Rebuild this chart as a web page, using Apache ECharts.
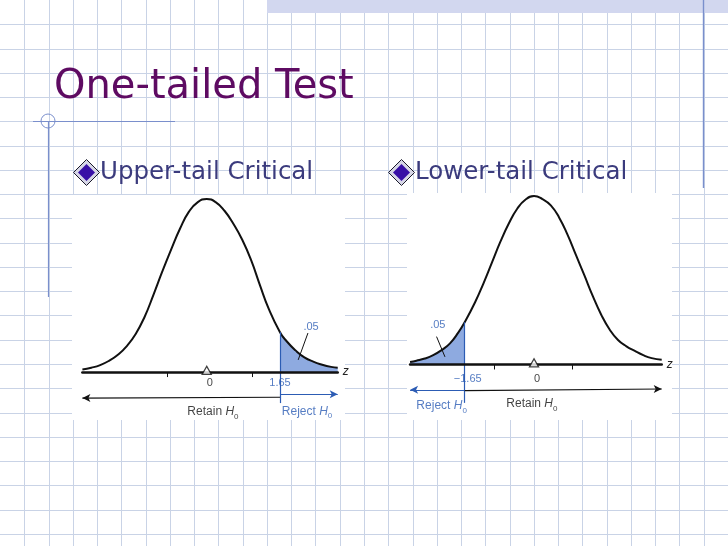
<!DOCTYPE html>
<html><head><meta charset="utf-8">
<script src="https://cdn.jsdelivr.net/npm/echarts@6/dist/echarts.min.js"></script>
<style>html,body{margin:0;padding:0;background:#fff;}#c{width:728px;height:546px;}</style>
</head><body><div id="c"></div>
<script>
// ---- data ----
const titleText = 'One-tailed Test';
const subtitles = ['Upper-tail Critical', 'Lower-tail Critical'];

const leftZ       = [-2.8, -2.6, -2.4, -2.2, -2.0, -1.8, -1.6, -1.4, -1.2, -1.0, -0.8, -0.6, -0.4, -0.2, 0, 0.2, 0.4, 0.6, 0.8, 1.0, 1.2, 1.4, 1.65, 1.8, 2.0, 2.2, 2.4, 2.6, 2.8, 2.95];
const leftDensity = [0.006, 0.010, 0.016, 0.026, 0.040, 0.060, 0.088, 0.127, 0.178, 0.232, 0.283, 0.331, 0.370, 0.392, 0.399, 0.392, 0.372, 0.342, 0.305, 0.258, 0.200, 0.145, 0.092, 0.071, 0.050, 0.034, 0.024, 0.017, 0.012, 0.010];

const rightZ       = [-2.95, -2.8, -2.6, -2.4, -2.2, -2.0, -1.8, -1.65, -1.4, -1.2, -1.0, -0.8, -0.6, -0.4, -0.2, 0, 0.2, 0.4, 0.6, 0.8, 1.0, 1.2, 1.4, 1.6, 1.8, 2.0, 2.2, 2.4, 2.6, 2.8, 3.04];
const rightDensity = [0.006, 0.009, 0.014, 0.022, 0.034, 0.050, 0.076, 0.100, 0.148, 0.193, 0.242, 0.291, 0.334, 0.369, 0.391, 0.399, 0.392, 0.377, 0.348, 0.307, 0.259, 0.211, 0.162, 0.118, 0.083, 0.058, 0.043, 0.032, 0.022, 0.015, 0.011];

const leftCritical = 1.65;
const rightCritical = -1.65;
const tailAreaLabel = '.05';
const leftLabelTicks = [0, 1.65];
const rightLabelTicks = [-1.65, 0];
const leftMinorTicks = [-0.9, 1.03];
const rightMinorTicks = [-0.95, 0.91];

// ---- styling ----
const BLUE = '#2c5cb4';
const SHADE = '#8eaae0';
const INK = '#111';

const chart = echarts.init(document.getElementById('c'), null, {renderer: 'canvas'});

const pairs = (zs, ds) => zs.map((z, i) => [z, ds[i]]);
const leftCurve = pairs(leftZ, leftDensity);
const rightCurve = pairs(rightZ, rightDensity);
const leftTail = leftCurve.filter(p => p[0] >= leftCritical);
const rightTail = rightCurve.filter(p => p[0] <= rightCritical);
const leftCritD = leftDensity[leftZ.indexOf(leftCritical)];
const rightCritD = rightDensity[rightZ.indexOf(rightCritical)];

function fmtZ(v) {
  v = Number(v);
  if (v === 0) return '0';
  return (v < 0 ? '\u2212' : '') + Math.abs(v).toFixed(2);
}

function hLabel(word) {
  return '{a|' + word + ' }{h|H}{s|0}';
}
function richFor(color) {
  return {
    a: {fontSize: 12, fontFamily: 'Liberation Sans', color: color, lineHeight: 14, verticalAlign: 'bottom'},
    h: {fontSize: 12, fontFamily: 'Liberation Sans', fontStyle: 'italic', color: color, lineHeight: 14, verticalAlign: 'bottom'},
    s: {fontSize: 8, fontFamily: 'Liberation Sans', color: color, lineHeight: 9, verticalAlign: 'bottom', padding: [0, 0, -3, 0]}
  };
}

function xAxisFor(idx, min, max, minorTicks) {
  return {
    type: 'value', gridIndex: idx, min: min, max: max, z: 10,
    name: 'z', nameLocation: 'end', nameGap: 5,
    nameTextStyle: {fontStyle: 'italic', fontSize: 12, color: '#222', fontFamily: 'Liberation Sans', verticalAlign: 'middle'},
    axisLine: {show: true, onZero: true, lineStyle: {color: INK, width: 2.6}},
    axisTick: {show: true, customValues: minorTicks, length: 5, lineStyle: {color: INK, width: 1}},
    axisLabel: {show: false},
    splitLine: {show: false}
  };
}
function yAxisFor(idx) {
  return {type: 'value', gridIndex: idx, min: -0.12, max: 0.4, show: false, splitLine: {show: false}};
}

function curveSeries(idx, data, tail, critical, critD, lineEnd, leaderFrom, leaderTo, arrows) {
  return [
    {
      type: 'line', xAxisIndex: idx, yAxisIndex: idx, data: tail, smooth: true, symbol: 'none',
      lineStyle: {width: 0}, areaStyle: {color: SHADE, opacity: 1, origin: 'auto'}, z: 2, silent: true
    },
    {
      type: 'line', xAxisIndex: idx, yAxisIndex: idx, data: data, smooth: true, symbol: 'none',
      lineStyle: {color: INK, width: 2}, z: 3, silent: true,
      markLine: {
        silent: true, animation: false, symbol: 'none', label: {show: false},
        data: [
          [{coord: [critical, critD], symbol: 'none', lineStyle: {color: BLUE, width: 1.2, type: 'solid'}},
           {coord: [critical, lineEnd], symbol: 'none'}],
          [{coord: leaderFrom, symbol: 'none', lineStyle: {color: INK, width: 1, type: 'solid'}},
           {coord: leaderTo, symbol: 'none'}]
        ].concat(arrows)
      }
    }
  ];
}

function annotSeries(idx, items) {
  return {
    type: 'scatter', xAxisIndex: idx, yAxisIndex: idx, z: 12, silent: true, clip: false,
    symbolSize: 0.1, itemStyle: {color: 'rgba(0,0,0,0)'},
    data: items
  };
}
function triangle(z, y) {
  return {value: [z, y], symbol: 'triangle', symbolSize: [9, 8],
    itemStyle: {color: '#fff', borderColor: INK, borderWidth: 1.3}, label: {show: false}};
}
function textItem(z, y, text, color, rich, offset) {
  return {value: [z, y], label: {show: true, position: 'inside', formatter: text, offset: offset || [0, 0],
    color: color, fontSize: 11, fontFamily: 'Liberation Sans', rich: rich}};
}
function tickLabels(values, critical, y, offsets) {
  return values.map((v, i) => textItem(v, y, fmtZ(v), v === critical ? BLUE : INK, undefined, offsets[i]));
}
function arrow(from, to, color, headAtStart) {
  return [{coord: from, symbol: headAtStart ? 'arrow' : 'none', symbolSize: [6, 8], lineStyle: {color: color, width: 1.1, type: 'solid'}},
          {coord: to, symbol: headAtStart ? 'none' : 'arrow', symbolSize: [6, 8]}];
}

// ---- decorative page (slide background) ----
const G = 728 / 30;
const gfx = [];
for (let k = 1; k < 30; k++) {
  const x = Math.round(G * k) + 0.5;
  gfx.push({type: 'line', z: 0, shape: {x1: x, y1: 0, x2: x, y2: 546}, style: {stroke: '#c9d3e6', lineWidth: 1}});
}
for (let k = 1; k < 23; k++) {
  const y = Math.round(G * k) + 0.5;
  gfx.push({type: 'line', z: 0, shape: {x1: 0, y1: y, x2: 728, y2: y}, style: {stroke: '#c9d3e6', lineWidth: 1}});
}
gfx.push({type: 'rect', z: 1, shape: {x: 267, y: 0, width: 461, height: 13}, style: {fill: '#d2d7ef'}});
const deco = '#7a8fcc';
gfx.push({type: 'line', z: 1, shape: {x1: 33, y1: 121.5, x2: 175, y2: 121.5}, style: {stroke: deco, lineWidth: 1.2}});
gfx.push({type: 'line', z: 1, shape: {x1: 48.5, y1: 121, x2: 48.5, y2: 297}, style: {stroke: deco, lineWidth: 1.2}});
gfx.push({type: 'circle', z: 1, shape: {cx: 48, cy: 121, r: 7}, style: {stroke: deco, fill: 'none', lineWidth: 1}});
gfx.push({type: 'line', z: 1, shape: {x1: 703.5, y1: 0, x2: 703.5, y2: 188}, style: {stroke: deco, lineWidth: 1.4}});
// white picture panels
gfx.push({type: 'rect', z: 1, shape: {x: 72, y: 195, width: 273, height: 225}, style: {fill: '#fff'}});
gfx.push({type: 'rect', z: 1, shape: {x: 407, y: 193, width: 265, height: 227}, style: {fill: '#fff'}});
// title
gfx.push({type: 'text', z: 2, x: 54, y: 88, style: {text: titleText, fill: '#5e0b62',
  fontSize: 40, fontFamily: 'DejaVu Sans', align: 'left', verticalAlign: 'middle'}});
// bullets + subtitles
function bullet(cx, cy) {
  gfx.push({type: 'polygon', z: 2, shape: {points: [[cx, cy - 13], [cx + 13, cy], [cx, cy + 13], [cx - 13, cy]]},
    style: {fill: '#d6d6e6', stroke: '#1a1a2a', lineWidth: 1}});
  gfx.push({type: 'polygon', z: 2, shape: {points: [[cx, cy - 8.5], [cx + 8.5, cy], [cx, cy + 8.5], [cx - 8.5, cy]]},
    style: {fill: '#3810a6'}});
}
bullet(86.5, 172.5);
bullet(401.5, 172.5);
gfx.push({type: 'text', z: 2, x: 100, y: 173, style: {text: subtitles[0], fill: '#3b3b7d',
  fontSize: 24.5, fontFamily: 'DejaVu Sans', align: 'left', verticalAlign: 'middle'}});
gfx.push({type: 'text', z: 2, x: 415, y: 173, style: {text: subtitles[1], fill: '#3b3b7d',
  fontSize: 24.5, fontFamily: 'DejaVu Sans', align: 'left', verticalAlign: 'middle'}});

// ---- option ----
const option = {
  animation: false,
  backgroundColor: 'transparent',
  graphic: {elements: gfx},
  grid: [
    {left: 82.4, top: 198.6, width: 255.3, height: 225.5, containLabel: false},
    {left: 410.1, top: 195.7, width: 251.6, height: 219.4, containLabel: false}
  ],
  xAxis: [
    xAxisFor(0, -2.8, 2.95, leftMinorTicks),
    xAxisFor(1, -2.95, 3.04, rightMinorTicks)
  ],
  yAxis: [yAxisFor(0), yAxisFor(1)],
  series: [].concat(
    curveSeries(0, leftCurve, leftTail, leftCritical, leftCritD, -0.0715, [2.28, 0.090], [2.06, 0.028],
      [arrow([-2.8, -0.060], [leftCritical, -0.058], INK, true), arrow([leftCritical, -0.051], [2.95, -0.051], BLUE, false)]),
    curveSeries(1, rightCurve, rightTail, rightCritical, rightCritD, -0.091, [-2.32, 0.066], [-2.12, 0.018],
      [arrow([-2.95, -0.060], [rightCritical, -0.060], BLUE, true), arrow([rightCritical, -0.062], [3.04, -0.058], INK, false)]),
    [
      annotSeries(0, [
        triangle(0, 0.004),
        textItem(2.35, 0.104, tailAreaLabel, BLUE),
        textItem(0.14, -0.090, hLabel('Retain'), INK, richFor(INK)),
        textItem(2.26, -0.088, hLabel('Reject'), BLUE, richFor(BLUE))
      ].concat(tickLabels(leftLabelTicks, leftCritical, -0.026, [[3, 0], [0, 0]]))),
      annotSeries(1, [
        triangle(0, 0.004),
        textItem(-2.29, 0.094, tailAreaLabel, BLUE),
        textItem(-2.2, -0.096, hLabel('Reject'), BLUE, richFor(BLUE)),
        textItem(-0.05, -0.091, hLabel('Retain'), INK, richFor(INK))
      ].concat(tickLabels(rightLabelTicks, rightCritical, -0.034, [[3, 0], [3, 0]])))
    ]
  )
};
chart.setOption(option);
</script>
</body></html>
